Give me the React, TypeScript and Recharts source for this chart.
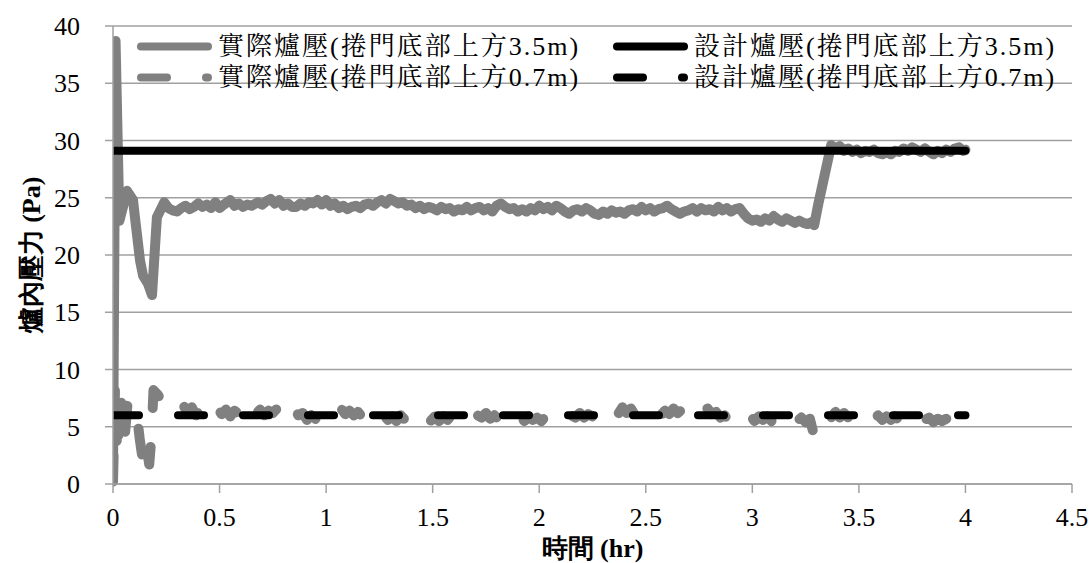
import { LineChart, Line, XAxis, YAxis, CartesianGrid, Legend, Label } from "recharts"

const FONT = "'Liberation Serif', 'Noto Serif CJK TC', serif"
const TITLE_FONT = "'Liberation Serif', serif"
const GRAY = "#808080"
const BLACK = "#000000"
const GRID = "#a0a0a0"
const DASH = "26 39"

const seriesNames = [
  "實際爐壓(捲門底部上方3.5m)",
  "設計爐壓(捲門底部上方3.5m)",
  "實際爐壓(捲門底部上方0.7m)",
  "設計爐壓(捲門底部上方0.7m)",
]

const xTicks = [0, 0.5, 1, 1.5, 2, 2.5, 3, 3.5, 4, 4.5]
const yTicks = [0, 5, 10, 15, 20, 25, 30, 35, 40]

// 實際爐壓 3.5m: [hr, Pa]
const actual35 = [
  [0, 0.3], [0.012, 38.7], [0.03, 23.0], [0.066, 25.6], [0.094, 24.8], [0.103, 23.3],
  [0.127, 19.5], [0.141, 18.2], [0.164, 17.5], [0.183, 16.5], [0.206, 23.3], [0.24, 24.6],
  [0.26, 24.1], [0.28, 23.9], [0.3, 23.8], [0.32, 24.1], [0.34, 24.3], [0.36, 24.0],
  [0.38, 24.2], [0.4, 24.5], [0.42, 24.2], [0.44, 24.4], [0.46, 24.1], [0.48, 24.6],
  [0.5, 24.1], [0.52, 24.4], [0.55, 24.8], [0.57, 24.3], [0.59, 24.5], [0.61, 24.2],
  [0.63, 24.4], [0.65, 24.3], [0.68, 24.6], [0.7, 24.4], [0.72, 24.7], [0.74, 24.9],
  [0.76, 24.5], [0.78, 24.8], [0.8, 24.3], [0.82, 24.5], [0.84, 24.2], [0.86, 24.2],
  [0.88, 24.5], [0.9, 24.3], [0.92, 24.6], [0.94, 24.5], [0.96, 24.8], [0.98, 24.4],
  [1.0, 24.8], [1.02, 24.3], [1.04, 24.5], [1.06, 24.1], [1.08, 24.3], [1.1, 24.0],
  [1.12, 24.2], [1.14, 24.3], [1.16, 24.1], [1.18, 24.4], [1.2, 24.5], [1.22, 24.3],
  [1.24, 24.6], [1.26, 24.8], [1.28, 24.5], [1.3, 24.9], [1.32, 24.7], [1.34, 24.5],
  [1.36, 24.6], [1.38, 24.3], [1.4, 24.4], [1.42, 24.1], [1.44, 24.3], [1.46, 24.0],
  [1.48, 24.2], [1.5, 24.1], [1.52, 23.9], [1.54, 24.2], [1.56, 24.0], [1.58, 24.1],
  [1.6, 23.8], [1.62, 24.0], [1.64, 23.9], [1.66, 24.2], [1.68, 23.9], [1.7, 24.1],
  [1.72, 24.2], [1.74, 23.9], [1.76, 24.1], [1.78, 23.8], [1.8, 24.3], [1.82, 24.5],
  [1.84, 24.2], [1.86, 24.0], [1.88, 24.1], [1.9, 23.8], [1.92, 24.0], [1.94, 23.8],
  [1.96, 24.1], [1.98, 23.9], [2.0, 24.3], [2.02, 24.0], [2.04, 24.2], [2.06, 23.9],
  [2.08, 24.3], [2.1, 24.1], [2.12, 23.8], [2.14, 23.6], [2.16, 23.9], [2.18, 24.0],
  [2.2, 23.8], [2.22, 24.1], [2.24, 23.9], [2.26, 23.6], [2.28, 23.5], [2.3, 23.8],
  [2.32, 23.6], [2.34, 23.9], [2.36, 23.7], [2.38, 23.8], [2.4, 23.6], [2.42, 23.9],
  [2.44, 24.0], [2.46, 23.8], [2.48, 24.2], [2.5, 23.9], [2.52, 24.1], [2.54, 23.8],
  [2.56, 24.0], [2.58, 24.1], [2.6, 24.3], [2.62, 24.0], [2.64, 23.8], [2.66, 23.6],
  [2.68, 23.8], [2.7, 23.9], [2.72, 24.1], [2.74, 23.8], [2.76, 24.1], [2.78, 23.9],
  [2.8, 24.0], [2.82, 23.8], [2.84, 24.2], [2.86, 23.9], [2.88, 24.1], [2.9, 23.8],
  [2.92, 24.0], [2.94, 24.1], [2.96, 23.6], [2.98, 23.2], [3.0, 23.0], [3.02, 23.1],
  [3.04, 22.9], [3.06, 23.2], [3.08, 23.0], [3.1, 23.4], [3.12, 23.1], [3.14, 22.9],
  [3.16, 23.2], [3.18, 23.0], [3.2, 22.8], [3.22, 23.0], [3.24, 22.8], [3.26, 22.7],
  [3.28, 22.9], [3.29, 22.6], [3.31, 24.5], [3.37, 29.6], [3.39, 29.3], [3.41, 29.5],
  [3.43, 29.1], [3.45, 29.3], [3.47, 29.0], [3.49, 29.2], [3.51, 28.9], [3.53, 29.1],
  [3.55, 29.0], [3.57, 29.2], [3.59, 28.9], [3.61, 28.8], [3.63, 29.0], [3.65, 28.8],
  [3.67, 29.1], [3.69, 29.0], [3.71, 29.3], [3.73, 29.1], [3.75, 29.4], [3.77, 29.2],
  [3.79, 29.0], [3.81, 29.3], [3.83, 29.0], [3.85, 28.8], [3.87, 29.1], [3.89, 28.9],
  [3.91, 29.2], [3.93, 29.0], [3.95, 29.3], [3.97, 29.4], [3.99, 29.1], [4.0, 29.2],
]

// 設計爐壓 3.5m
const design35 = [[0, 29.1], [4.0, 29.1]]

// 實際爐壓 0.7m
const actual07 = [
  [0, 0.2], [0.01, 8.8], [0.02, 2.3], [0.035, 8.5], [0.05, 3.0], [0.07, 7.4], [0.09, 6.8],
  [0.11, 6.4], [0.125, 4.0], [0.14, 2.0], [0.155, 3.6], [0.17, 1.7], [0.18, 4.0], [0.19, 8.2],
  [0.21, 7.8], [0.23, 7.2], [0.25, 6.9], [0.27, 6.4], [0.29, 6.1], [0.31, 6.6], [0.33, 6.9],
  [0.35, 6.2], [0.37, 6.7], [0.39, 6.0], [0.41, 6.5], [0.43, 5.9], [0.45, 6.4], [0.47, 6.0],
  [0.49, 6.6], [0.51, 6.1], [0.53, 6.5], [0.55, 5.9], [0.57, 6.4], [0.59, 6.1], [0.61, 6.9],
  [0.63, 6.3], [0.65, 6.7], [0.67, 6.1], [0.69, 6.5], [0.71, 6.0], [0.73, 6.4], [0.75, 6.2],
  [0.77, 6.6], [0.79, 6.1], [0.81, 6.9], [0.83, 6.3], [0.85, 6.6], [0.87, 6.0], [0.89, 6.2],
  [0.91, 5.6], [0.93, 6.0], [0.95, 5.7], [0.97, 6.1], [0.99, 5.6], [1.01, 6.0], [1.03, 5.8],
  [1.05, 6.4], [1.07, 6.6], [1.09, 6.1], [1.11, 6.4], [1.13, 6.0], [1.15, 6.3], [1.17, 5.8],
  [1.19, 6.1], [1.21, 5.7], [1.23, 6.2], [1.25, 5.7], [1.27, 6.0], [1.29, 5.6], [1.31, 5.9],
  [1.33, 5.5], [1.35, 6.0], [1.37, 5.6], [1.39, 5.9], [1.41, 5.5], [1.43, 5.9], [1.45, 5.4],
  [1.47, 5.8], [1.49, 5.5], [1.51, 5.9], [1.53, 5.5], [1.55, 5.9], [1.57, 5.6], [1.59, 6.0],
  [1.61, 5.7], [1.63, 6.1], [1.65, 5.8], [1.67, 6.1], [1.69, 5.7], [1.71, 6.0], [1.73, 5.8],
  [1.75, 6.2], [1.77, 5.7], [1.79, 6.0], [1.81, 5.6], [1.83, 5.9], [1.85, 5.5], [1.87, 5.9],
  [1.89, 5.6], [1.91, 6.0], [1.93, 5.5], [1.95, 5.9], [1.97, 5.6], [1.99, 5.8], [2.01, 5.5],
  [2.03, 5.9], [2.05, 5.7], [2.07, 6.0], [2.09, 5.5], [2.11, 5.8], [2.13, 5.6], [2.15, 6.0],
  [2.17, 5.8], [2.19, 6.2], [2.21, 5.8], [2.23, 6.1], [2.25, 5.9], [2.27, 6.3], [2.29, 5.9],
  [2.31, 6.4], [2.33, 6.0], [2.35, 6.4], [2.37, 6.1], [2.39, 6.7], [2.41, 6.2], [2.43, 6.6],
  [2.45, 6.0], [2.47, 6.3], [2.49, 5.9], [2.51, 6.3], [2.53, 5.9], [2.55, 6.2], [2.57, 6.0],
  [2.59, 6.4], [2.61, 6.1], [2.63, 6.6], [2.65, 6.2], [2.67, 6.5], [2.69, 6.1], [2.71, 6.4],
  [2.73, 6.0], [2.75, 6.5], [2.77, 6.2], [2.79, 6.6], [2.81, 6.1], [2.83, 6.3], [2.85, 5.8],
  [2.87, 6.0], [2.89, 5.5], [2.91, 5.9], [2.93, 5.6], [2.95, 5.9], [2.97, 5.6], [2.99, 6.0],
  [3.01, 5.5], [3.03, 5.9], [3.05, 5.6], [3.07, 5.9], [3.09, 5.5], [3.11, 5.8], [3.13, 5.4],
  [3.15, 5.8], [3.17, 5.5], [3.19, 5.9], [3.21, 5.5], [3.23, 5.8], [3.25, 5.4], [3.27, 5.7],
  [3.29, 4.2], [3.31, 4.6], [3.33, 5.5], [3.35, 6.2], [3.37, 5.8], [3.39, 6.3], [3.41, 5.8],
  [3.43, 6.2], [3.45, 5.8], [3.47, 6.1], [3.49, 5.7], [3.51, 5.9], [3.53, 5.6], [3.55, 5.9],
  [3.57, 5.6], [3.59, 6.0], [3.61, 5.6], [3.63, 5.9], [3.65, 5.6], [3.67, 5.9], [3.69, 5.5],
  [3.71, 5.8], [3.73, 5.5], [3.75, 5.8], [3.77, 5.5], [3.79, 5.9], [3.81, 5.6], [3.83, 5.8],
  [3.85, 5.4], [3.87, 5.7], [3.89, 5.5], [3.91, 5.7],
]

// 設計爐壓 0.7m
const design07 = [[0, 6.0], [4.0, 6.0]]

const toRows = (pts: number[][]) => pts.map(([t, v]) => ({ t, v }))

const seriesData = [toRows(actual35), toRows(design35), toRows(actual07), toRows(design07)]
const seriesColors = [GRAY, BLACK, GRAY, BLACK]
const seriesDash = [undefined, undefined, DASH, DASH]
const seriesWidth = [10, 8, 10, 8]

function LegendBox() {
  return (
    <div
      style={{
        display: "grid",
        gridTemplateColumns: "476px 484px",
        fontFamily: FONT,
        fontSize: 26,
        letterSpacing: 2,
        lineHeight: "31px",
        color: "#000",
      }}
    >
      {seriesNames.map((name, i) => (
        <div key={name} style={{ display: "flex", alignItems: "center", whiteSpace: "nowrap" }}>
          <svg width={85} height={31} style={{ flex: "none" }}>
            <line
              x1={8}
              x2={75}
              y1={15.5}
              y2={15.5}
              stroke={seriesColors[i]}
              strokeWidth={8}
              strokeLinecap="round"
              strokeDasharray={seriesDash[i]}
            />
          </svg>
          <span>{name}</span>
        </div>
      ))}
    </div>
  )
}

export default function App() {
  return (
    <div style={{ position: "absolute", left: 0, top: 0, width: 1092, height: 563, background: "#fff" }}>
      <LineChart width={1092} height={563} margin={{ top: 26, right: 20, left: 0, bottom: 0 }}>
        <CartesianGrid vertical={false} stroke={GRID} strokeWidth={1.5} />
        <XAxis
          type="number"
          dataKey="t"
          domain={[0, 4.5]}
          ticks={xTicks}
          allowDataOverflow
          height={79}
          stroke={GRID}
          strokeWidth={1.5}
          tickSize={9}
          tickMargin={15}
          tick={{ fill: "#000", fontFamily: FONT, fontSize: 26 }}
        >
          <Label
            value="時間 (hr)"
            position="insideBottom"
            offset={6}
            style={{ fontFamily: TITLE_FONT, fontSize: 26, fontWeight: "bold", fill: "#000" }}
          />
        </XAxis>
        <YAxis
          type="number"
          domain={[0, 40]}
          ticks={yTicks}
          width={113}
          stroke={GRID}
          strokeWidth={1.5}
          tickSize={8}
          tickMargin={25}
          tick={{ fill: "#000", fontFamily: FONT, fontSize: 26 }}
        >
          <Label
            value="爐內壓力 (Pa)"
            angle={-90}
            position="insideLeft"
            offset={31}
            style={{ fontFamily: TITLE_FONT, fontSize: 26, fontWeight: "bold", fill: "#000", textAnchor: "middle" }}
          />
        </YAxis>
        <Legend
          layout="horizontal"
          verticalAlign="middle"
          align="center"
          content={<LegendBox />}
          wrapperStyle={{ top: 31, left: 133, width: 960, height: 62 }}
        />
        {seriesData.map((d, i) => (
          <Line
            key={seriesNames[i]}
            data={d}
            dataKey="v"
            name={seriesNames[i]}
            type="linear"
            stroke={seriesColors[i]}
            strokeWidth={seriesWidth[i]}
            strokeDasharray={seriesDash[i]}
            strokeLinecap="round"
            strokeLinejoin="round"
            dot={false}
            activeDot={false}
            isAnimationActive={false}
          />
        ))}
      </LineChart>
    </div>
  )
}
